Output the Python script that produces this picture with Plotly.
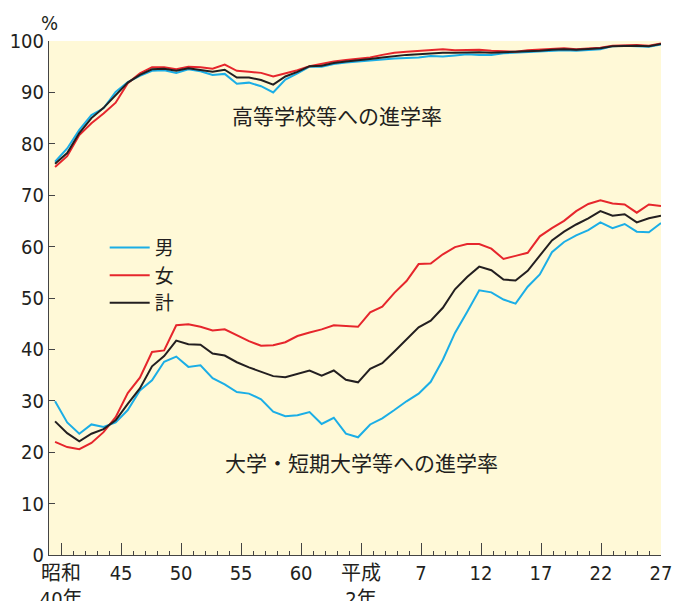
import plotly.graph_objects as go

years = list(range(1965, 2016))

# 高等学校等への進学率
hs_male = [76.5, 79.1, 82.7, 85.6, 86.9, 90.1, 92.0, 93.2, 94.2, 94.3,
           93.8, 94.5, 94.1, 93.4, 93.6, 91.7, 91.9, 91.2, 90.0, 92.5,
           93.7, 95.0, 95.0, 95.5, 95.8, 96.0, 96.3, 96.5, 96.6, 96.7,
           96.8, 97.1, 97.0, 97.2, 97.4, 97.3, 97.3, 97.6, 97.7, 97.9,
           98.0, 98.1, 98.2, 98.1, 98.2, 98.4, 99.0, 99.1, 99.0, 98.9, 99.3]
hs_female = [75.5, 77.6, 81.7, 84.0, 85.9, 88.0, 91.8, 93.7, 94.9, 94.9,
             94.5, 95.0, 94.9, 94.6, 95.4, 94.2, 94.0, 93.8, 93.1, 93.7,
             94.3, 95.1, 95.6, 96.0, 96.3, 96.5, 96.8, 97.3, 97.7, 97.9,
             98.1, 98.3, 98.4, 98.2, 98.3, 98.3, 98.1, 98.0, 97.9, 98.2,
             98.3, 98.5, 98.6, 98.4, 98.5, 98.7, 99.1, 99.2, 99.2, 99.1, 99.5]
hs_total = [76.1, 78.2, 82.1, 85.0, 87.0, 89.4, 91.9, 93.4, 94.5, 94.6,
            94.2, 94.7, 94.4, 94.0, 94.4, 92.9, 92.9, 92.4, 91.5, 93.1,
            94.0, 95.1, 95.2, 95.7, 96.0, 96.2, 96.5, 96.8, 97.1, 97.3,
            97.4, 97.6, 97.7, 97.7, 97.8, 97.8, 97.7, 97.8, 97.8, 98.0,
            98.1, 98.3, 98.4, 98.3, 98.4, 98.6, 99.0, 99.1, 99.1, 99.0, 99.4]

# 大学・短期大学等への進学率
un_male = [29.9, 25.8, 23.6, 25.4, 24.9, 25.8, 28.2, 32.0, 34.0, 37.6,
           38.6, 36.6, 36.9, 34.4, 33.2, 31.7, 31.4, 30.3, 27.9, 27.0,
           27.2, 27.8, 25.5, 26.7, 23.6, 22.9, 25.4, 26.6, 28.2, 29.9,
           31.4, 33.7, 38.0, 43.2, 47.3, 51.5, 51.1, 49.7, 48.9, 52.2,
           54.6, 58.9, 60.9, 62.2, 63.2, 64.7, 63.6, 64.4, 62.9, 62.8, 64.6]
un_female = [22.0, 21.0, 20.6, 21.8, 23.9, 26.8, 31.5, 34.5, 39.5, 39.8,
             44.7, 44.9, 44.4, 43.7, 43.9, 42.8, 41.6, 40.7, 40.8, 41.4,
             42.6, 43.3, 43.9, 44.7, 44.5, 44.4, 47.2, 48.3, 51.0, 53.3,
             56.6, 56.7, 58.5, 59.9, 60.5, 60.5, 59.6, 57.6, 58.2, 58.8,
             62.0, 63.6, 65.0, 66.9, 68.3, 69.0, 68.4, 68.2, 66.6, 68.2, 67.9]
un_total = [26.0, 23.7, 22.1, 23.6, 24.5, 26.2, 29.4, 32.4, 36.7, 38.7,
            41.7, 41.0, 40.9, 39.2, 38.8, 37.5, 36.5, 35.6, 34.8, 34.6,
            35.3, 35.9, 34.9, 35.9, 34.1, 33.6, 36.2, 37.3, 39.6, 41.9,
            44.3, 45.6, 48.1, 51.7, 54.1, 56.1, 55.4, 53.6, 53.4, 55.3,
            58.2, 61.2, 62.9, 64.3, 65.5, 66.9, 66.0, 66.3, 64.7, 65.5, 66.0]

tick_labels = ["昭和<br>40年", "45", "50", "55", "60", "平成<br>2年", "7", "12", "17", "22", "27"]
y_ticks = list(range(0, 101, 10))

# tick grid of the original: ticks sit half a step right of the first data point
TICK0 = 1965.5
MINOR_STEP = 0.99
tick_vals = [TICK0 + 5 * MINOR_STEP * i for i in range(len(tick_labels))]

BLUE = "#1BAEE6"
RED = "#E6262C"
BLACK = "#231F20"

FONT = "DejaVu Sans Condensed, Liberation Sans Narrow, Noto Sans CJK JP, sans-serif"
JFONT = "Noto Sans CJK JP, sans-serif"

fig = go.Figure()
series = [
    ("男", BLUE, hs_male, un_male),
    ("女", RED, hs_female, un_female),
    ("計", BLACK, hs_total, un_total),
]
for name, color, hs, un in series:
    fig.add_trace(go.Scatter(x=years, y=hs, mode="lines", name=name,
                             line=dict(color=color, width=2), showlegend=False))
for name, color, hs, un in series:
    fig.add_trace(go.Scatter(x=years, y=un, mode="lines", name=name,
                             line=dict(color=color, width=2), showlegend=True))

fig.add_annotation(x=1988.3, y=85.6, xref="x", yref="y", text="高等学校等への進学率",
                   showarrow=False, font=dict(family=JFONT, size=21, color="#231F20"))
fig.add_annotation(x=1990.3, y=18.1, xref="x", yref="y", text="大学・短期大学等への進学率",
                   showarrow=False, font=dict(family=JFONT, size=21, color="#231F20"))
fig.add_annotation(x=0.0, y=1.0, xref="paper", yref="paper", text="%",
                   showarrow=False, xanchor="center", yanchor="bottom", yshift=4,
                   font=dict(family=FONT, size=20, color="#231F20"))

# page body has an 8px margin, so the figure is sized/offset to compensate
fig.update_layout(
    width=678, height=593,
    margin=dict(l=41, r=25, t=33, b=46, autoexpand=False),
    paper_bgcolor="white",
    plot_bgcolor="#FFF9D7",
    font=dict(family=FONT, size=20, color="#231F20"),
    legend=dict(x=0.091, y=0.635, xanchor="left", yanchor="top",
                bgcolor="rgba(0,0,0,0)", font=dict(family=JFONT, size=19),
                itemwidth=40, tracegroupgap=0),
    showlegend=True,
)
fig.update_xaxes(range=[1964.5, 2015], tickmode="array", tickvals=tick_vals, ticktext=tick_labels,
                 ticks="inside", ticklen=12, tickcolor="#444", tickwidth=1,
                 showline=True, linecolor="#444", linewidth=1, showgrid=False,
                 zeroline=False, automargin=False, tickfont=dict(family=FONT, size=20),
                 minor=dict(ticks="inside", ticklen=4, dtick=MINOR_STEP, tick0=TICK0,
                            tickcolor="#444", showgrid=False))
fig.update_yaxes(range=[0, 100], tickvals=y_ticks, ticks="inside", ticklen=6,
                 tickcolor="#444", showline=True, linecolor="#444", linewidth=1,
                 showgrid=False, zeroline=False, automargin=False,
                 tickfont=dict(family=FONT, size=20))

fig.write_html("out.html")
